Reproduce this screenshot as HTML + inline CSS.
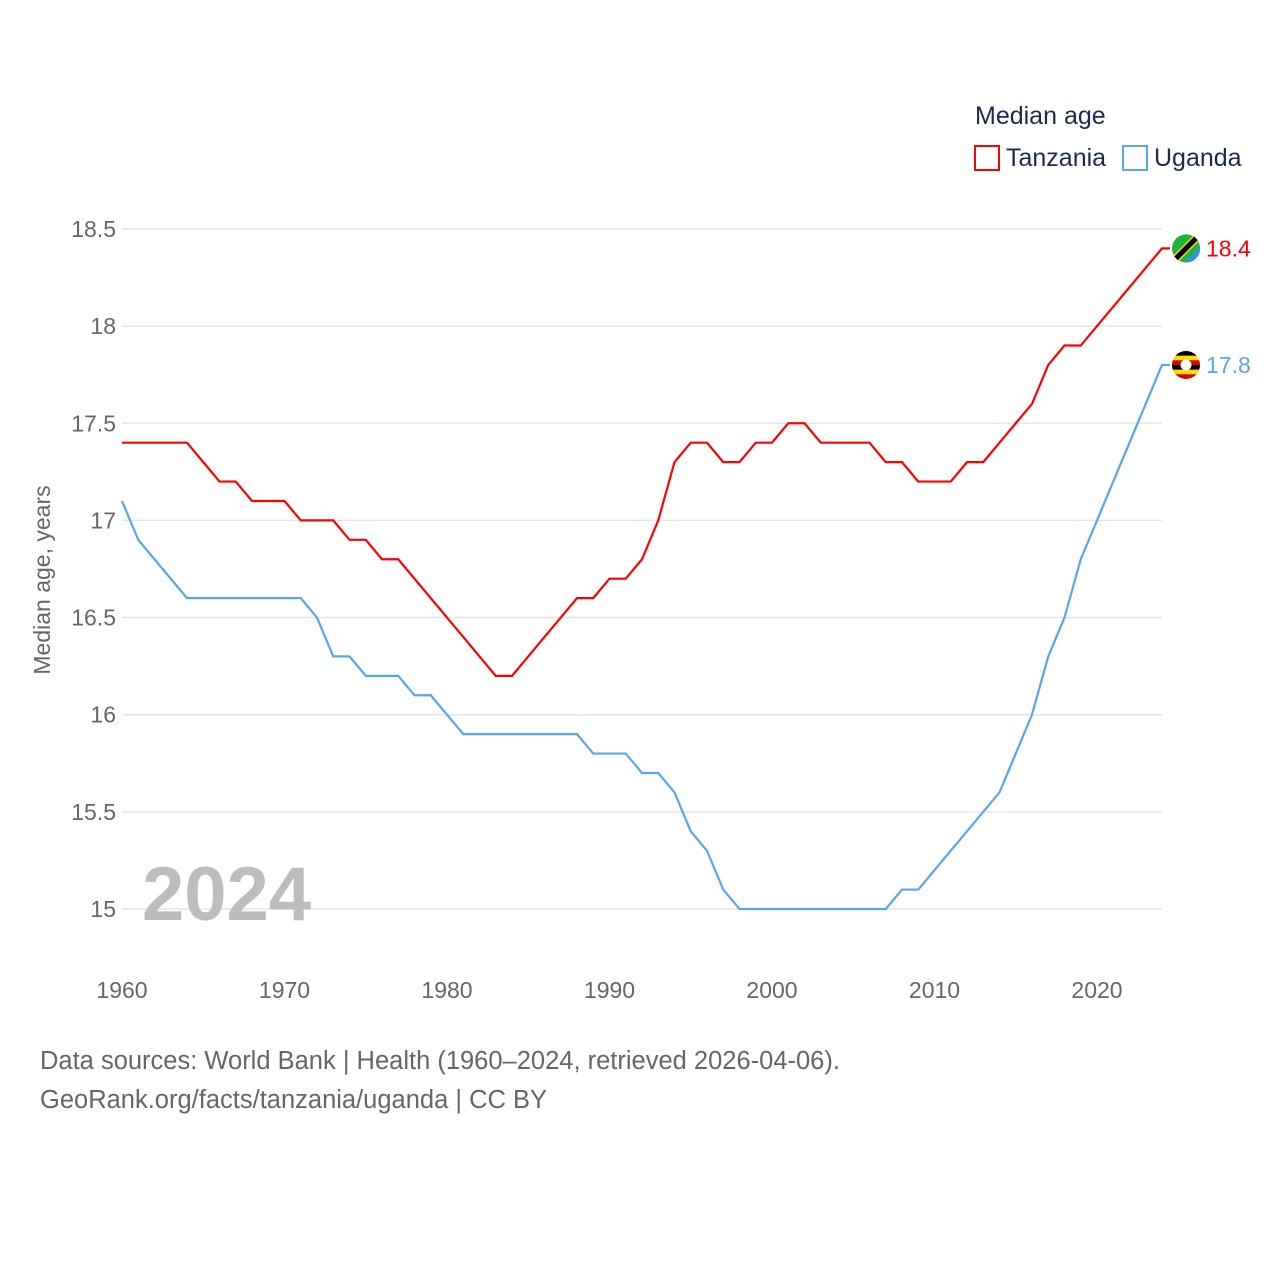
<!DOCTYPE html>
<html><head><meta charset="utf-8"><style>
body{margin:0;background:#fff;}
svg{display:block;font-family:"Liberation Sans",Lato,sans-serif;}
</style></head><body>
<svg id="chart" width="1280" height="1280">
<text x="975" y="124" font-size="25" fill="#1c2b4a">Median age</text>
<rect x="975" y="146" width="24" height="24" fill="none" stroke="#f00" stroke-width="2"/>
<text x="1006" y="166" font-size="25" fill="#1c2b4a">Tanzania</text>
<rect x="1123" y="146" width="24" height="24" fill="none" stroke="#5aa5ee" stroke-width="2"/>
<text x="1154" y="166" font-size="25" fill="#1c2b4a">Uganda</text>
<g id="grid"></g>
<g id="xt"></g>
<text transform="translate(50,580) rotate(-90)" text-anchor="middle" font-size="23" fill="#666">Median age, years</text>
<text x="142" y="920" font-size="76" font-weight="bold" fill="#bdbdbd">2024</text>
<g id="series"></g>
<text x="40" y="1069" font-size="25.5" fill="#666">Data sources: World Bank | Health (1960–2024, retrieved 2026-04-06).</text>
<text x="40" y="1108" font-size="25.5" fill="#666">GeoRank.org/facts/tanzania/uganda | CC BY</text>
</svg>
<script>
const years=[];for(let y=1960;y<=2024;y++)years.push(y);
const tanzania=[17.4,17.4,17.4,17.4,17.4,17.3,17.2,17.2,17.1,17.1,17.1,17.0,17.0,17.0,16.9,16.9,16.8,16.8,16.7,16.6,16.5,16.4,16.3,16.2,16.2,16.3,16.4,16.5,16.6,16.6,16.7,16.7,16.8,17.0,17.3,17.4,17.4,17.3,17.3,17.4,17.4,17.5,17.5,17.4,17.4,17.4,17.4,17.3,17.3,17.2,17.2,17.2,17.3,17.3,17.4,17.5,17.6,17.8,17.9,17.9,18.0,18.1,18.2,18.3,18.4];
const uganda=[17.1,16.9,16.8,16.7,16.6,16.6,16.6,16.6,16.6,16.6,16.6,16.6,16.5,16.3,16.3,16.2,16.2,16.2,16.1,16.1,16.0,15.9,15.9,15.9,15.9,15.9,15.9,15.9,15.9,15.8,15.8,15.8,15.7,15.7,15.6,15.4,15.3,15.1,15.0,15.0,15.0,15.0,15.0,15.0,15.0,15.0,15.0,15.0,15.1,15.1,15.2,15.3,15.4,15.5,15.6,15.8,16.0,16.3,16.5,16.8,17.0,17.2,17.4,17.6,17.8];
const yTicks=[15,15.5,16,16.5,17,17.5,18,18.5];
const yTickLabels=["15","15.5","16","16.5","17","17.5","18","18.5"];
const xTicks=[1960,1970,1980,1990,2000,2010,2020];
const NS="http://www.w3.org/2000/svg";
const X=y=>122+(y-1960)*16.25;
const Y=v=>909-(v-15)*194.3;
function el(t,a,p){const e=document.createElementNS(NS,t);for(const k in a)e.setAttribute(k,a[k]);p.appendChild(e);return e;}
const grid=document.getElementById('grid'),xt=document.getElementById('xt'),ser=document.getElementById('series');
yTicks.forEach((v,i)=>{
 const l=el('line',{x1:122,x2:1162,y1:Y(v),y2:Y(v),stroke:'#e6e6e6','stroke-width':1.5},grid);
 
 
 const t=el('text',{x:116,y:Y(v)+8,'text-anchor':'end','font-size':23,fill:'#666'},grid);
 t.textContent=yTickLabels[i];
 
 
});
xTicks.forEach(v=>{
 const t=el('text',{x:X(v),y:998,'text-anchor':'middle','font-size':23,fill:'#666'},xt);
 t.textContent=v;
 
 
});
function line(data,color,name){
 const last=data[data.length-1];
 const pts=data.map((v,i)=>X(years[i])+','+Y(v));
 pts.push((X(years[years.length-1])+8)+','+Y(last));
 const p=el('polyline',{points:pts.join(' '),fill:'none',stroke:color,'stroke-width':2.2},ser);
 
 
 const t=el('text',{x:1206,y:Y(last)+8,'font-size':23,fill:color},ser);
 t.textContent=last.toFixed(1);
 
 
 return Y(last);
}
const ty=line(tanzania,'#ff0000','tanzania');
const uy=line(uganda,'#5aa5ee','uganda');
const ft=el('g',{},ser);


el('circle',{cx:1186,cy:ty,r:14,fill:'#1eb53a'},ft);
el('path',{d:`M${1186+14} ${ty-2} A14 14 0 0 1 ${1186-2} ${ty+14} Z`,fill:'#3a8ee6'},ft);
el('line',{x1:1176,y1:ty+10,x2:1196,y2:ty-10,stroke:'#fcd116','stroke-width':8},ft);
el('line',{x1:1176,y1:ty+10,x2:1196,y2:ty-10,stroke:'#000','stroke-width':5},ft);
const fu=el('g',{},ser);


el('clipPath',{id:'uc'},fu).appendChild(document.createElementNS(NS,'circle'));
const cc=fu.querySelector('clipPath circle');cc.setAttribute('cx',1186);cc.setAttribute('cy',uy);cc.setAttribute('r',14);
const cols=['#000','#fcdc04','#d90000','#000','#fcdc04','#d90000'];
cols.forEach((c,i)=>el('rect',{x:1172,y:uy-14+i*28/6,width:28,height:28/6+0.5,fill:c,'clip-path':'url(#uc)'},fu));
el('circle',{cx:1186,cy:uy,r:5.5,fill:'#fff'},fu);
</script>
</body></html>
